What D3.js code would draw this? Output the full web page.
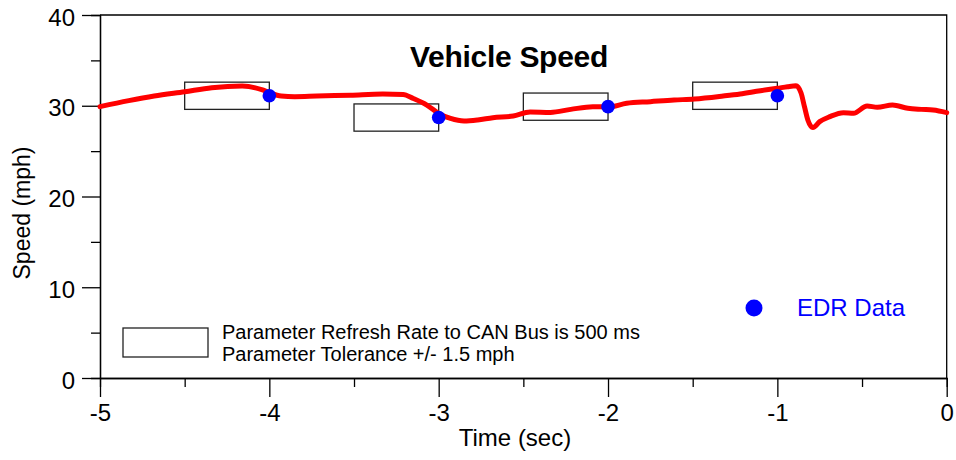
<!DOCTYPE html>
<html>
<head>
<meta charset="utf-8">
<script src="https://cdn.jsdelivr.net/npm/d3@7"></script>
<style>
  body { margin: 0; background: #fff; }
  svg text { font-family: "Liberation Sans", Arial, sans-serif; }
</style>
</head>
<body>
<div id="chart"></div>
<script>
// vehicle speed trace (CAN)
var times = [-5, -4.83, -4.68, -4.5, -4.34, -4.16, -4.04, -4.0, -3.93, -3.85, -3.72, -3.52, -3.33, -3.21, -3.15, -3.07, -3.0, -2.93, -2.85, -2.77, -2.68, -2.56, -2.46, -2.34, -2.22, -2.09, -2.0, -1.89, -1.75, -1.61, -1.49, -1.32, -1.22, -1.1, -1.0, -0.94, -0.89, -0.86, -0.84, -0.82, -0.79, -0.75, -0.69, -0.61, -0.55, -0.47, -0.41, -0.32, -0.23, -0.15, -0.08, 0];
var speeds = [29.9, 30.56, 31.07, 31.55, 31.99, 32.18, 31.74, 31.45, 31.07, 31.0, 31.07, 31.17, 31.29, 31.25, 30.8, 30.08, 29.15, 28.6, 28.32, 28.43, 28.68, 28.87, 29.31, 29.27, 29.6, 29.9, 29.86, 30.27, 30.45, 30.63, 30.74, 31.07, 31.3, 31.66, 31.92, 32.1, 32.2, 31.4, 29.9, 28.43, 27.6, 28.25, 28.8, 29.24, 29.17, 29.97, 29.83, 30.08, 29.72, 29.6, 29.53, 29.24];

// EDR recorded points
var edrTimes = [-4, -3, -2, -1];
var edrSpeeds = [31.1, 28.7, 29.9, 31.1];
var refreshWindow = 0.5; // sec
var tolerance = 1.5;     // mph

var xTicks = [-5, -4, -3, -2, -1, 0];
var xMinorTicks = [-4.5, -3.5, -2.5, -1.5, -0.5];
var yTicks = [0, 10, 20, 30, 40];
var yMinorTicks = [5, 15, 25, 35];

(function() {
  var width = 956, height = 460;
  var left = 100, right = 946.7, top = 15, bottom = 378;

  var svg = d3.select("#chart").append("svg")
    .attr("width", width)
    .attr("height", height);

  var x = d3.scaleLinear().domain([-5, 0]).range([left, right]);
  var y = d3.scaleLinear().domain([0, 40]).range([bottom, top]);

  // frame (top and right)
  svg.append("path")
    .attr("d", "M" + left + "," + top + "H" + right + "V" + bottom)
    .attr("fill", "none")
    .attr("stroke", "#000")
    .attr("stroke-width", 1.3);

  function styleAxis(g) {
    g.select(".domain").attr("stroke", "#000").attr("stroke-width", 1.3);
    g.selectAll(".tick line").attr("stroke", "#000").attr("stroke-width", 1.3);
    g.selectAll(".tick text")
      .attr("font-family", "'Liberation Sans', Arial, sans-serif")
      .attr("font-size", 24)
      .attr("fill", "#000");
  }

  // minor ticks first
  svg.append("g")
    .attr("transform", "translate(0," + bottom + ")")
    .call(d3.axisBottom(x).tickValues(xMinorTicks).tickSize(9).tickFormat(""))
    .call(styleAxis);
  svg.append("g")
    .attr("transform", "translate(" + left + ",0)")
    .call(d3.axisLeft(y).tickValues(yMinorTicks).tickSize(9).tickFormat(""))
    .call(styleAxis);

  var xAxis = svg.append("g")
    .attr("transform", "translate(0," + bottom + ")")
    .call(d3.axisBottom(x).tickValues(xTicks).tickSize(19).tickPadding(7).tickSizeOuter(0)
      .tickFormat(function(d) { return d < 0 ? "-" + Math.abs(d) : d; }))
    .call(styleAxis);

  var yAxis = svg.append("g")
    .attr("transform", "translate(" + left + ",0)")
    .call(d3.axisLeft(y).tickValues(yTicks).tickSize(18).tickPadding(7).tickSizeOuter(0))
    .call(styleAxis);
  yAxis.selectAll(".tick text").attr("dy", "0.42em");

  // refresh/tolerance boxes
  svg.selectAll(".win")
    .data(edrTimes)
    .enter().append("rect")
    .attr("class", "win")
    .attr("x", function(d) { return x(d - refreshWindow); })
    .attr("width", function(d) { return x(d) - x(d - refreshWindow); })
    .attr("y", function(d, i) { return y(edrSpeeds[i] + tolerance); })
    .attr("height", function(d, i) { return y(edrSpeeds[i] - tolerance) - y(edrSpeeds[i] + tolerance); })
    .attr("fill", "none")
    .attr("stroke", "#222")
    .attr("stroke-width", 1.3);

  // speed trace
  var line = d3.line()
    .x(function(d, i) { return x(times[i]); })
    .y(function(d) { return y(d); })
    .curve(d3.curveMonotoneX);

  svg.append("path")
    .datum(speeds)
    .attr("d", line)
    .attr("fill", "none")
    .attr("stroke", "#ff0000")
    .attr("stroke-width", 5)
    .attr("stroke-linejoin", "round")
    .attr("stroke-linecap", "round");

  // EDR points
  svg.selectAll(".edr")
    .data(edrTimes)
    .enter().append("circle")
    .attr("class", "edr")
    .attr("cx", function(d) { return x(d); })
    .attr("cy", function(d, i) { return y(edrSpeeds[i]); })
    .attr("r", 6.8)
    .attr("fill", "#0000ff");

  // title
  svg.append("text")
    .attr("x", 509)
    .attr("y", 67)
    .attr("text-anchor", "middle")
    .attr("font-size", 30)
    .attr("font-weight", "bold")
    .attr("letter-spacing", -0.3)
    .text("Vehicle Speed");

  // axis titles
  svg.append("text")
    .attr("x", 515)
    .attr("y", 446)
    .attr("text-anchor", "middle")
    .attr("font-size", 24)
    .text("Time (sec)");

  svg.append("text")
    .attr("transform", "translate(30,213) rotate(-90)")
    .attr("text-anchor", "middle")
    .attr("font-size", 23)
    .text("Speed (mph)");

  // legend: box
  svg.append("rect")
    .attr("x", 123).attr("y", 328)
    .attr("width", 85).attr("height", 29)
    .attr("fill", "none")
    .attr("stroke", "#222")
    .attr("stroke-width", 1.3);

  svg.append("text")
    .attr("x", 222).attr("y", 338.5)
    .attr("font-size", 20)
    .text("Parameter Refresh Rate to CAN Bus is 500 ms");
  svg.append("text")
    .attr("x", 222).attr("y", 361)
    .attr("font-size", 20)
    .text("Parameter Tolerance +/- 1.5 mph");

  // legend: EDR
  svg.append("circle")
    .attr("cx", 754).attr("cy", 308)
    .attr("r", 8.5)
    .attr("fill", "#0000ff");
  svg.append("text")
    .attr("x", 797).attr("y", 316)
    .attr("font-size", 24)
    .attr("fill", "#0000ff")
    .text("EDR Data");
})();
</script>
</body>
</html>
